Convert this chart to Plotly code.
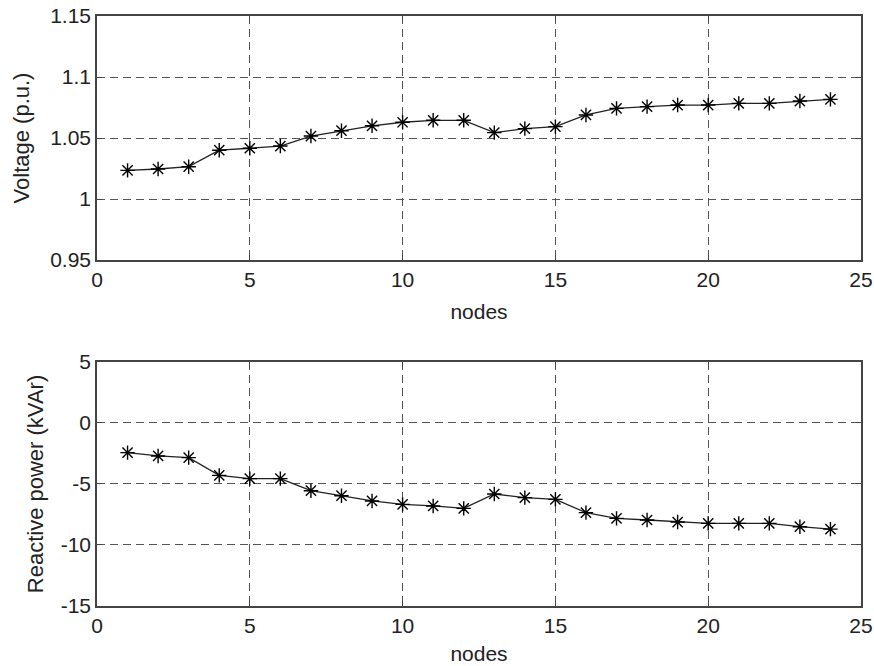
import plotly.graph_objects as go

nodes = list(range(1, 25))
voltage = [1.0235, 1.0246, 1.0265, 1.0400, 1.0416, 1.0434, 1.0516, 1.0560,
           1.0600, 1.0629, 1.0645, 1.0645, 1.0544, 1.0577, 1.0593, 1.0689,
           1.0743, 1.0757, 1.0770, 1.0770, 1.0784, 1.0784, 1.0803, 1.0817]
reactive = [-2.43, -2.70, -2.84, -4.29, -4.56, -4.56, -5.55, -5.96,
            -6.39, -6.67, -6.80, -7.00, -5.82, -6.12, -6.26, -7.35,
            -7.82, -7.95, -8.12, -8.23, -8.23, -8.23, -8.50, -8.70]

x_ticks = [0, 5, 10, 15, 20, 25]
v_ticks = [0.95, 1.0, 1.05, 1.1, 1.15]
v_labels = ["0.95", "1", "1.05", "1.1", "1.15"]
q_ticks = [-15, -10, -5, 0, 5]
q_labels = ["-15", "-10", "-5", "0", "5"]

FONT = "Liberation Sans, Arial, sans-serif"
marker = dict(symbol="asterisk-open", size=12, color="black",
              line=dict(color="black", width=1.4))

fig = go.Figure()
fig.add_trace(go.Scatter(x=nodes, y=voltage, mode="lines+markers",
                         line=dict(color="#222", width=1.3), marker=marker,
                         xaxis="x", yaxis="y", showlegend=False))
fig.add_trace(go.Scatter(x=nodes, y=reactive, mode="lines+markers",
                         line=dict(color="#222", width=1.3), marker=marker,
                         xaxis="x2", yaxis="y2", showlegend=False))

ax_common = dict(showline=True, linecolor="#444", linewidth=1.5, mirror="ticks",
                 ticks="inside", ticklen=5, tickcolor="#444",
                 showgrid=True, gridcolor="#555", griddash="8px,5px", gridwidth=1.4,
                 zeroline=False, ticklabeloverflow="allow", automargin=False,
                 tickfont=dict(family=FONT, size=21, color="#222"))

title_font = dict(family=FONT, size=22, color="#222")
x_title_font = dict(family=FONT, size=21, color="#222")

fig.update_layout(
    width=874, height=666,
    margin=dict(l=97, r=13, t=16, b=60),
    paper_bgcolor="white", plot_bgcolor="white",
    font=dict(family=FONT, size=21, color="#222"),
    xaxis=dict(domain=[0, 1], range=[0, 25], tickvals=x_ticks, anchor="y",
               title=dict(text="nodes", standoff=14, font=x_title_font), **ax_common),
    yaxis=dict(domain=[0.5864, 1], range=[0.95, 1.15], tickvals=v_ticks,
               ticktext=v_labels, anchor="x",
               title=dict(text="Voltage (p.u.)", standoff=14, font=title_font), **ax_common),
    xaxis2=dict(domain=[0, 1], range=[0, 25], tickvals=x_ticks, anchor="y2",
                title=dict(text="nodes", standoff=10, font=x_title_font), **ax_common),
    yaxis2=dict(domain=[0, 0.4136], range=[-15, 5], tickvals=q_ticks,
                ticktext=q_labels, anchor="x2",
                title=dict(text="Reactive power (kVAr)", standoff=11, font=title_font), **ax_common),
)

fig.write_html("out.html", config={"displayModeBar": False},
               post_script="document.body.style.margin='0px';")
